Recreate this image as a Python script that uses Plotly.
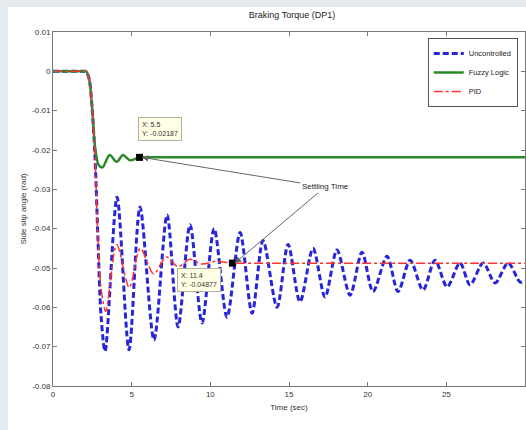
import plotly.graph_objects as go

# ---------------- data ----------------
t_unc = [0, 1.0, 1.95, 2.1, 2.3, 2.48, 2.67, 2.86, 3.05, 3.31, 4.07, 4.83, 5.53, 6.42, 7.25, 7.95,
         8.71, 9.47, 10.24, 11.06, 11.89, 12.65, 13.35, 14.24, 14.94, 15.70, 16.53,
         17.29, 18.05, 18.88, 19.64, 20.34, 21.23, 21.93, 22.70, 23.52, 24.28, 25.05,
         25.87, 26.51, 27.34, 28.10, 28.93, 29.69, 30]
y_unc = [0, 0, 0, 0, -0.002, -0.009, -0.022, -0.043, -0.062, -0.0712, -0.032, -0.0708, -0.0345,
         -0.0683, -0.0365, -0.065, -0.039, -0.064, -0.040, -0.0625, -0.041, -0.0615,
         -0.043, -0.060, -0.044, -0.0586, -0.045, -0.0574, -0.0454, -0.0569, -0.046,
         -0.056, -0.047, -0.056, -0.048, -0.0556, -0.048, -0.0548, -0.0487, -0.0543,
         -0.0487, -0.0538, -0.0487, -0.0536, -0.0533]

t_fuzzy = [0, 1.0, 1.95, 2.1, 2.3, 2.48, 2.67, 2.9, 3.15, 3.6, 4.05, 4.45, 4.9, 5.5, 6.3, 30]
y_fuzzy = [0, 0, 0, 0, -0.002, -0.009, -0.019, -0.0238, -0.0244, -0.0213, -0.023, -0.0213,
           -0.0226, -0.02187, -0.02187, -0.02187]

t_pid = [0, 1.0, 1.95, 2.1, 2.3, 2.48, 2.67, 2.86, 3.05, 3.35, 4.05, 4.85, 5.55, 6.4, 7.2, 7.95,
         8.7, 9.5, 10.3, 11.4, 12.3, 30]
y_pid = [0, 0, 0, 0, -0.002, -0.009, -0.022, -0.043, -0.055, -0.061, -0.044, -0.055, -0.045,
         -0.0515, -0.0472, -0.0497, -0.0478, -0.049, -0.0483, -0.04877, -0.04877, -0.04877]

tip_t = [5.5, 11.4]
tip_y = [-0.02187, -0.04877]

x_ticks = [0, 5, 10, 15, 20, 25, 30]
y_ticks = [0.01, 0, -0.01, -0.02, -0.03, -0.04, -0.05, -0.06, -0.07, -0.08]
y_ticktext = ["0.01", "0", "-0.01", "-0.02", "-0.03", "-0.04", "-0.05", "-0.06",
              "-0.07", "-0.08"]

FONT = "Liberation Sans, Arial, sans-serif"

fig = go.Figure()
fig.add_trace(go.Scatter(x=t_unc, y=y_unc, mode="lines", name="Uncontrolled",
                         line=dict(color="#2626d8", width=3, dash="6px,3px",
                                   shape="spline", smoothing=0.85)))
fig.add_trace(go.Scatter(x=t_fuzzy, y=y_fuzzy, mode="lines", name="Fuzzy Logic",
                         line=dict(color="#2a8a2a", width=2.5, shape="spline",
                                   smoothing=0.85)))
fig.add_trace(go.Scatter(x=t_pid, y=y_pid, mode="lines", name="PID",
                         line=dict(color="#ff3030", width=1.5, dash="dashdot",
                                   shape="spline", smoothing=0.85)))
fig.add_trace(go.Scatter(x=tip_t, y=tip_y, mode="markers", showlegend=False,
                         marker=dict(symbol="square", size=7, color="black")))

# white figure panel over the grey-blue surround
fig.add_shape(type="rect", xref="paper", yref="paper", x0=-0.0953, x1=1.01,
              y0=-0.13, y1=1.0706, fillcolor="white", line_width=0, layer="below")

# data tips
tip_pos = [(5.4, -0.0115), (7.9, -0.0500)]
for (ax_, ay_), tt, ty in zip(tip_pos, tip_t, tip_y):
    fig.add_annotation(x=ax_, y=ay_, xref="x", yref="y", xanchor="left", yanchor="top",
                       text=f"X: {tt:g}<br>Y: {ty:.5f}",
                       showarrow=False, align="left",
                       font=dict(family=FONT, size=7, color="#333"),
                       bgcolor="#ffffe6", bordercolor="#b0b0a0", borderwidth=1,
                       borderpad=3)

# settling time callout with two arrows
for i, (tt, ty) in enumerate(zip(tip_t, tip_y)):
    fig.add_annotation(x=tt + 0.15, y=ty, xref="x", yref="y", axref="x", ayref="y",
                       ax=17.3, ay=-0.0294, text="Settling Time", showarrow=True,
                       arrowhead=2, arrowsize=1.3, arrowwidth=1, arrowcolor="#666",
                       font=dict(family=FONT, size=8,
                                 color="#222" if i == 0 else "rgba(0,0,0,0)"))

fig.update_layout(
    width=526, height=430,
    margin=dict(l=53, r=1, t=32, b=44),
    paper_bgcolor="#e4eaed", plot_bgcolor="white",
    font=dict(family=FONT, size=8, color="#333"),
    title=dict(text="Braking Torque (DP1)", x=(292) / 526, y=1 - 15 / 430,
               xanchor="center", yanchor="middle",
               font=dict(family=FONT, size=9, color="#222")),
    legend=dict(x=0.794, y=0.983, xanchor="left", yanchor="top",
                bgcolor="white", bordercolor="#555", borderwidth=1,
                font=dict(family=FONT, size=7.5, color="#222"),
                tracegroupgap=0, itemwidth=30),
    showlegend=True,
)
fig.update_xaxes(range=[0, 30], tickvals=x_ticks, ticks="inside", ticklen=4,
                 showline=True, linecolor="#777", linewidth=1, mirror="ticks",
                 showgrid=False, zeroline=False, tickcolor="#777",
                 title=dict(text="Time (sec)", font=dict(family=FONT, size=8), standoff=6),
                 tickfont=dict(family=FONT, size=8, color="#333"))
fig.update_yaxes(range=[-0.08, 0.01], tickvals=y_ticks, ticktext=y_ticktext,
                 ticks="inside", ticklen=4, showline=True, linecolor="#777",
                 linewidth=1, mirror="ticks", showgrid=False, zeroline=False,
                 tickcolor="#777",
                 title=dict(text="Side slip angle (rad)", font=dict(family=FONT, size=8),
                            standoff=4),
                 tickfont=dict(family=FONT, size=8, color="#333"))

fig.write_html("out.html")
